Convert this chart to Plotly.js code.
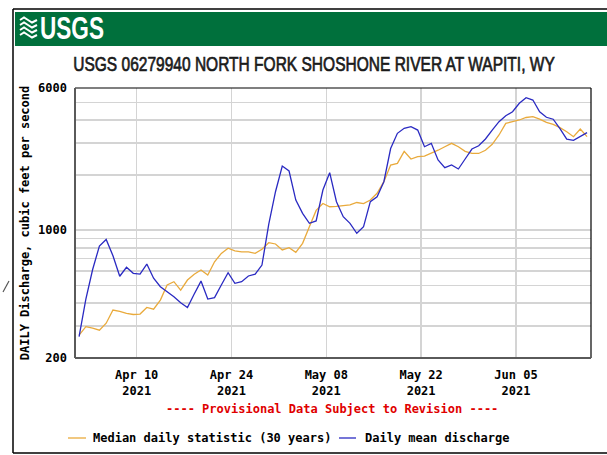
<!DOCTYPE html>
<html>
<head>
<meta charset="utf-8">
<script src="https://cdn.plot.ly/plotly-3.0.1.min.js"></script>
<style>html,body{margin:0;padding:0;background:#fff;}#chart{width:607px;height:455px;}</style>
</head>
<body>
<div id="chart"></div>
<script>
// ---- data ----
const dates = [
 '2021-04-01','2021-04-02','2021-04-03','2021-04-04','2021-04-05','2021-04-06','2021-04-07','2021-04-08','2021-04-09','2021-04-10',
 '2021-04-11','2021-04-12','2021-04-13','2021-04-14','2021-04-15','2021-04-16','2021-04-17','2021-04-18','2021-04-19','2021-04-20',
 '2021-04-21','2021-04-22','2021-04-23','2021-04-24','2021-04-25','2021-04-26','2021-04-27','2021-04-28','2021-04-29','2021-04-30',
 '2021-05-01','2021-05-02','2021-05-03','2021-05-04','2021-05-05','2021-05-06','2021-05-07','2021-05-08','2021-05-09','2021-05-10',
 '2021-05-11','2021-05-12','2021-05-13','2021-05-14','2021-05-15','2021-05-16','2021-05-17','2021-05-18','2021-05-19','2021-05-20',
 '2021-05-21','2021-05-22','2021-05-23','2021-05-24','2021-05-25','2021-05-26','2021-05-27','2021-05-28','2021-05-29','2021-05-30',
 '2021-05-31','2021-06-01','2021-06-02','2021-06-03','2021-06-04','2021-06-05','2021-06-06','2021-06-07','2021-06-08','2021-06-09',
 '2021-06-10','2021-06-11','2021-06-12','2021-06-13','2021-06-14','2021-06-15'
];
const dailyMean = [
 262, 420, 610, 820, 890, 725, 560, 627, 581, 575,
 653, 546, 491, 461, 433, 401, 378, 448, 527, 420,
 428, 502, 586, 512, 523, 562, 575, 645, 1077, 1624,
 2245, 2109, 1463, 1237, 1091, 1125, 1660, 2064, 1433, 1186,
 1091, 962, 1045, 1433, 1525, 1843, 2800, 3389, 3611, 3684,
 3532, 2864, 2989, 2424, 2199, 2274, 2163, 2453, 2781, 2900,
 3156, 3532, 3924, 4233, 4449, 4947, 5309, 5156, 4449, 4150,
 4050, 3600, 3150, 3100, 3250, 3420
];
const medianDaily = [
 267, 297, 291, 284, 310, 366, 360, 351, 346, 348,
 378, 370, 415, 502, 523, 470, 534, 575, 606, 569,
 672, 747, 797, 771, 761, 761, 747, 787, 855, 841,
 780, 802, 757, 848, 1045, 1284, 1400, 1344, 1350, 1362,
 1376, 1418, 1400, 1463, 1592, 1843, 2274, 2322, 2700, 2453,
 2525, 2545, 2630, 2740, 2864, 2989, 2864, 2700, 2630, 2630,
 2740, 2950, 3319, 3845, 3924, 4010, 4138, 4179, 4050, 3890,
 3790, 3640, 3459, 3250, 3580, 3252
];
const xTickVals = ['2021-04-10','2021-04-24','2021-05-08','2021-05-22','2021-06-05'];
const xTickText = ['Apr 10<br>2021','Apr 24<br>2021','May 08<br>2021','May 22<br>2021','Jun 05<br>2021'];
const yTickVals = [200,300,400,500,600,700,800,900,1000,2000,3000,4000,5000,6000];
const yTickText = ['200','','','','','','','','1000','','','','','6000'];
const seriesNames = ['Median daily statistic (30 years)','Daily mean discharge'];
const titleText = 'USGS 06279940 NORTH FORK SHOSHONE RIVER AT WAPITI, WY';
const yTitle = 'DAILY Discharge, cubic feet per second';
const noteText = '---- Provisional Data Subject to Revision ----';

// ---- layout helpers (pixel -> paper) ----
const L=75, R=591, T=88, B=358, W=R-L, H=B-T;
const px = x => (x-L)/W;
const py = y => (B-y)/H;
const mono = 'DejaVu Sans Mono, monospace';
const sans = 'Liberation Sans, Arial, sans-serif';
const ORANGE = '#E9AA3C', BLUE = '#2A2AC2';

const xNoon = dates.map(d => d + ' 12:00');

const traces = [
  {x: xNoon, y: medianDaily, type:'scatter', mode:'lines', name: seriesNames[0],
   line:{color:ORANGE, width:1.3}, showlegend:false, hoverinfo:'x+y'},
  {x: xNoon, y: dailyMean, type:'scatter', mode:'lines', name: seriesNames[1],
   line:{color:BLUE, width:1.3}, showlegend:false, hoverinfo:'x+y'}
];

function line(x0,y0,x1,y1,color,width){
  return {type:'line', xref:'paper', yref:'paper', x0:px(x0), y0:py(y0), x1:px(x1), y1:py(y1),
          line:{color:color, width:width}, layer:'above'};
}
function wave(y){
  const pts = [[20,y],[24,y-2.5],[28,y],[32,y+2.5],[37,y]];
  let d = 'M' + px(pts[0][0]) + ',' + py(pts[0][1]);
  for (let i=1;i<pts.length;i++) d += ' L' + px(pts[i][0]) + ',' + py(pts[i][1]);
  return {type:'path', xref:'paper', yref:'paper', path:d, line:{color:'#ffffff', width:2}, layer:'above'};
}

const shapes = [
  line(13,9,610,9,'#000',1.5),
  line(13,9,13,453,'#000',1.5),
  line(13,453,610,453,'#000',1.5),
  {type:'rect', xref:'paper', yref:'paper', x0:px(15), x1:px(612), y0:py(12), y1:py(46),
   fillcolor:'#00703C', line:{width:0}, layer:'above'},
  wave(20), wave(25), wave(30), wave(35),
  line(L,T,R,T,'#000',1.2),
  line(R,T,R,B,'#000',1.2),
  line(L,T,L,B,'#5a5a5a',2),
  line(L,B,R,B,'#5a5a5a',2),
  line(68,438,86,438,ORANGE,1.3),
  line(339,438,356,438,BLUE,1.3),
  line(3,292,9,281,'#555',1.2)
];

const annotations = [
  {text:'<b>USGS</b>', xref:'paper', yref:'paper', x:px(38), y:py(28.5), xanchor:'left', yanchor:'middle',
   showarrow:false, font:{family:sans, size:31, color:'#ffffff'}},
  {text:'<b>'+noteText+'</b>', xref:'paper', yref:'paper', x:px(332), y:py(409), xanchor:'center', yanchor:'middle',
   showarrow:false, font:{family:mono, size:12, color:'#e00000'}},
  {text:'<b>'+seriesNames[0]+'</b>', xref:'paper', yref:'paper', x:px(91), y:py(438), xanchor:'left', yanchor:'middle',
   showarrow:false, font:{family:mono, size:12, color:'#000'}},
  {text:'<b>'+seriesNames[1]+'</b>', xref:'paper', yref:'paper', x:px(363), y:py(438), xanchor:'left', yanchor:'middle',
   showarrow:false, font:{family:mono, size:12, color:'#000'}}
];

const layout = {
  width:607, height:455,
  margin:{l:L, r:607-R, t:T, b:455-B, pad:0},
  paper_bgcolor:'#fff', plot_bgcolor:'#fff',
  showlegend:false,
  title:{text:titleText, x:314/607, xref:'container', y:1-64/455, yref:'container',
         xanchor:'center', yanchor:'middle', font:{family:sans, size:20, color:'#1a1a1a'}},
  xaxis:{type:'date', range:['2021-03-31 21:30','2021-06-16 02:00'],
         tickmode:'array', tickvals:xTickVals, ticktext:xTickText,
         showgrid:true, gridcolor:'#d4d4d4', gridwidth:1.5, zeroline:false, showline:false,
         ticks:'', ticklabelstandoff:8,
         tickfont:{family:mono, size:12, color:'#000', weight:'bold'}},
  yaxis:{type:'log', range:[Math.log10(200), Math.log10(6000)],
         tickmode:'array', tickvals:yTickVals, ticktext:yTickText,
         showgrid:true, gridcolor:'#d4d4d4', gridwidth:1.5, zeroline:false, showline:false,
         ticks:'', ticklabelstandoff:7,
         tickfont:{family:mono, size:12, color:'#000', weight:'bold'},
         title:{text:'<b>'+yTitle+'</b>', standoff:5, font:{family:mono, size:12, color:'#000'}}},
  shapes:shapes,
  annotations:annotations
};

// condense a text element horizontally to a target pixel span (narrow typeface look)
function condense(el, left, right, anchor, strokeW){
  if (!el) return;
  const bb = el.getBBox();
  const s = (right-left)/bb.width;
  const ref = anchor === 'left' ? bb.x : bb.x + bb.width/2;
  const old = el.getAttribute('transform') || '';
  el.setAttribute('transform', old + ' translate(' + ref + ',0) scale(' + s + ',1) translate(' + (-ref) + ',0)');
  if (strokeW) {
    el.style.stroke = el.style.fill;
    el.style.strokeWidth = strokeW + 'px';
  }
}

Plotly.newPlot('chart', traces, layout, {displayModeBar:false, staticPlot:true}).then(function(gd){
  condense(gd.querySelector('.gtitle'), 73, 555, 'center', 0.7);
  const annTexts = gd.querySelectorAll('.annotation-text');
  annTexts.forEach(function(t){ if (t.textContent === 'USGS') condense(t, 38, 102, 'left', 0); });
});
</script>
</body>
</html>
